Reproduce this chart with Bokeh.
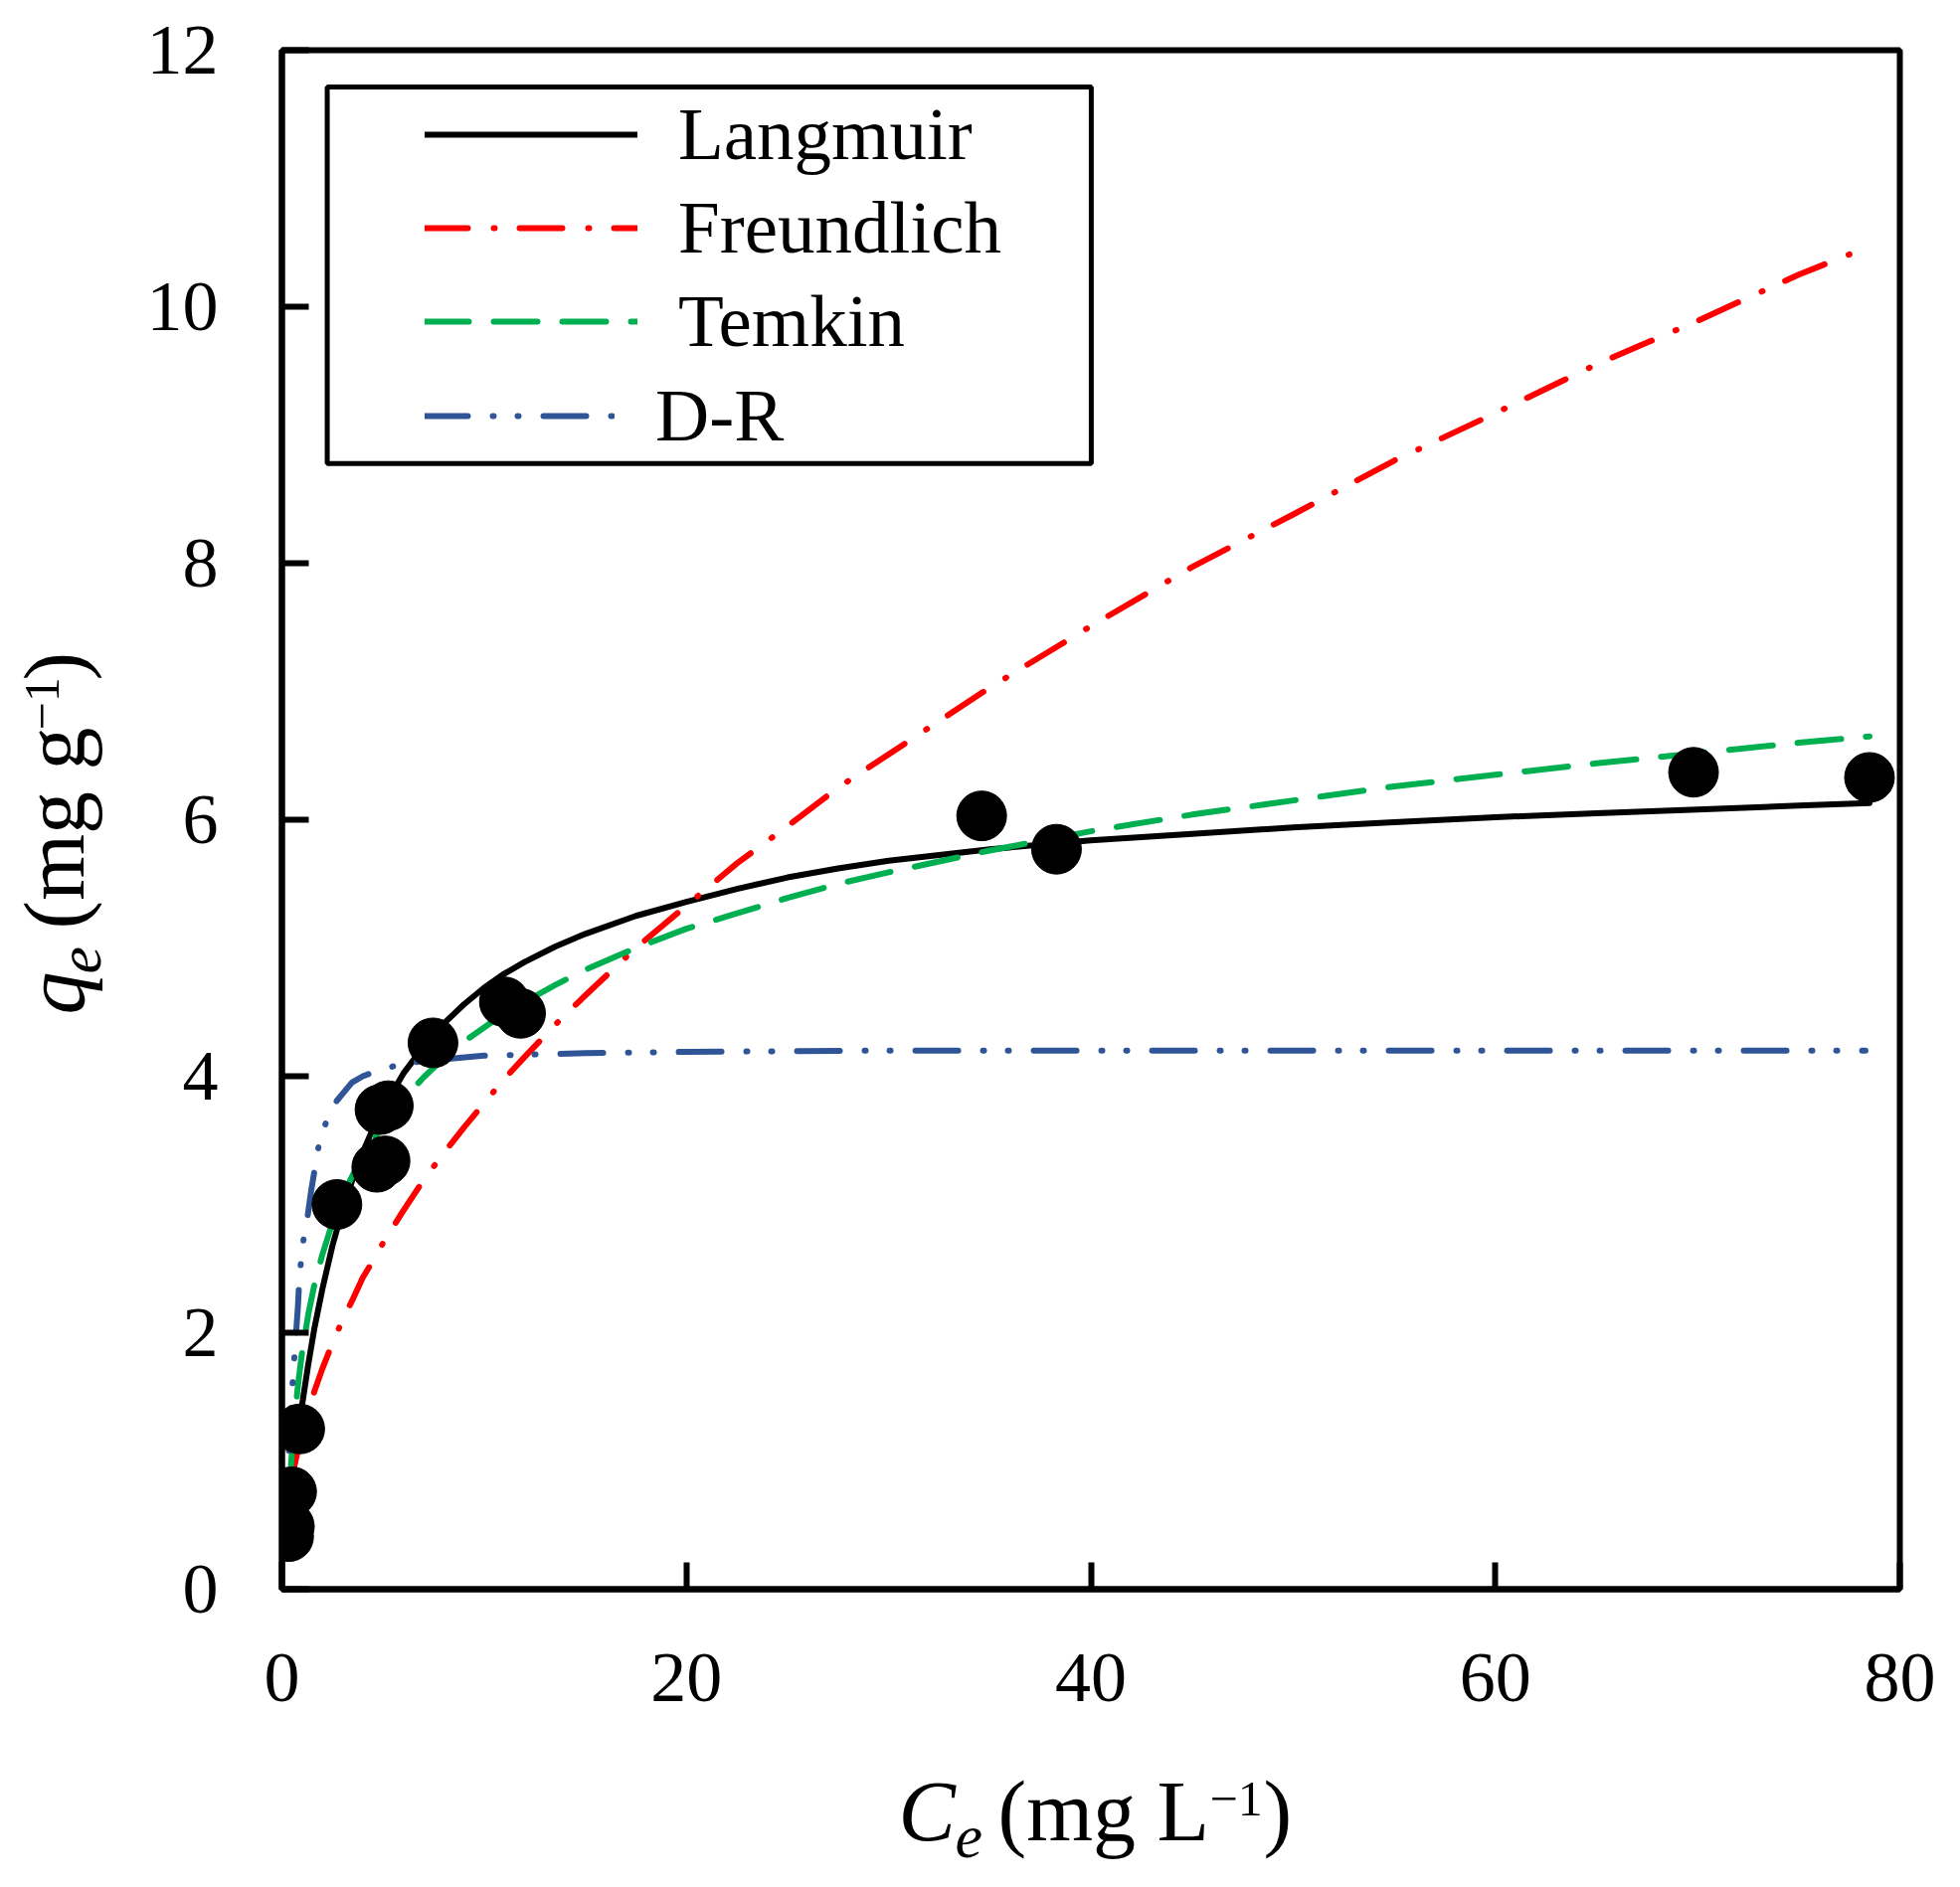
import math
from bokeh.plotting import figure
from bokeh.layouts import column, row
from bokeh.models import Range1d, FixedTicker, Legend, LegendItem, BoxAnnotation, Label
from bokeh.embed import file_html
from bokeh.resources import INLINE

# ---------------- data ----------------
Ce = [0.33, 0.37, 0.48, 0.88, 2.72, 4.69, 5.10, 4.85, 5.26, 7.47, 11.0, 11.8, 34.6, 38.3, 69.8, 78.5]
qe = [0.41, 0.49, 0.76, 1.25, 3.00, 3.29, 3.34, 3.74, 3.77, 4.26, 4.58, 4.49, 6.03, 5.77, 6.37, 6.33]

fit_x = [0.45, 0.6, 0.8, 1.0, 1.3, 1.6, 2.0, 2.5, 3.0, 3.5, 4.0, 4.5, 5.0, 6.0, 7.0, 8.0, 9.0,
         10.0, 11.0, 12.0, 13.5, 15.0, 17.5, 20.0, 22.5, 25.0, 27.5, 30.0, 35.0, 40.0, 45.0,
         50.0, 55.0, 60.0, 65.0, 70.0, 75.0, 78.5]
langmuir_q = [0.74, 0.95, 1.21, 1.44, 1.75, 2.03, 2.34, 2.68, 2.96, 3.20, 3.41, 3.59, 3.75, 4.02,
              4.23, 4.41, 4.56, 4.69, 4.80, 4.89, 5.01, 5.11, 5.25, 5.36, 5.46, 5.55, 5.62, 5.68,
              5.77, 5.84, 5.89, 5.94, 5.98, 6.02, 6.05, 6.08, 6.11, 6.13]
freundlich_q = [0.82, 0.95, 1.09, 1.22, 1.39, 1.54, 1.72, 1.92, 2.10, 2.26, 2.43, 2.56, 2.70, 2.95,
                3.19, 3.40, 3.60, 3.79, 3.98, 4.15, 4.40, 4.63, 5.00, 5.33, 5.66, 5.95, 6.25, 6.51,
                7.03, 7.51, 7.97, 8.38, 8.80, 9.17, 9.55, 9.89, 10.25, 10.47]
temkin_q = [0.97, 1.29, 1.60, 1.85, 2.14, 2.37, 2.61, 2.86, 3.06, 3.23, 3.37, 3.50, 3.62, 3.82,
            3.99, 4.14, 4.27, 4.38, 4.49, 4.58, 4.71, 4.83, 5.00, 5.15, 5.27, 5.39, 5.50, 5.59,
            5.76, 5.91, 6.04, 6.15, 6.26, 6.35, 6.44, 6.52, 6.60, 6.65]
dr_x = [0.34, 0.43, 0.54, 0.62, 0.70, 0.79, 0.87, 1.08, 1.29, 1.46, 1.82, 2.18, 2.72, 3.46,
        4.0, 4.5, 5.56, 7.0, 8.5, 10.0, 12.5, 15.0, 20.0, 30.0, 50.0, 78.3]
dr_q = [1.08, 1.40, 1.63, 1.82, 2.00, 2.20, 2.45, 2.74, 2.93, 3.12, 3.46, 3.64, 3.81, 3.95,
        4.00, 4.03, 4.08, 4.12, 4.14, 4.16, 4.17, 4.18, 4.19, 4.20, 4.20, 4.20]

series_names = ["Langmuir", "Freundlich", "Temkin", "D-R"]
series_colors = ["black", "#FF0000", "#00B050", "#2F5597"]
series_dash = ["solid", "43 26 1 25", "44 25", "43 25 1 24 1 25"]

x_ticks = [0, 20, 40, 60, 80]
y_ticks = [0, 2, 4, 6, 8, 10, 12]

SERIF = "Liberation Serif"
MID = 0.33  # distance (in em) from the text baseline up to the middle of the text box

# ---------------- main figure ----------------
p = figure(width=1830, height=1760,
           x_range=Range1d(0, 80), y_range=Range1d(0, 12),
           output_backend="svg", toolbar_location=None,
           min_border_left=163, min_border_right=40,
           min_border_top=50, min_border_bottom=162)
p.background_fill_color = "white"
p.border_fill_color = "white"
p.xgrid.visible = False
p.ygrid.visible = False
p.outline_line_color = "black"
p.outline_line_width = 6
p.outline_line_alpha = 1.0

for ax in (p.xaxis[0], p.yaxis[0]):
    ax.axis_line_width = 6
    ax.axis_line_color = "black"
    ax.major_tick_line_width = 6
    ax.major_tick_line_color = "black"
    ax.major_tick_in = 27
    ax.major_tick_out = 0
    ax.minor_tick_line_color = None
    ax.major_label_text_font = SERIF
    ax.major_label_text_font_size = "72px"
    ax.major_label_text_color = "black"
    ax.axis_label = None

p.xaxis.ticker = FixedTicker(ticks=x_ticks)
p.yaxis.ticker = FixedTicker(ticks=y_ticks)
p.xaxis.major_label_standoff = 65
p.yaxis.major_label_standoff = 64

# ---------------- curves ----------------
curve_x = [fit_x, fit_x, fit_x, dr_x]
curve_y = [langmuir_q, freundlich_q, temkin_q, dr_q]
renderers = []
for xs, ys, col, dash in zip(curve_x, curve_y, series_colors, series_dash):
    r = p.line(xs, ys, line_color=col, line_width=6, line_dash=dash,
               line_cap="round", line_join="round")
    renderers.append(r)

p.scatter(Ce, qe, size=50, marker="circle", fill_color="black", line_color="black")

# ---------------- legend ----------------
box = BoxAnnotation(left=2.24, right=40.02, bottom=8.778, top=11.713,
                    fill_color="white", fill_alpha=1.0,
                    line_color="black", line_width=5, line_alpha=1.0)
p.add_layout(box)

legend_common = dict(orientation="vertical", glyph_height=94, label_height=94,
                     label_standoff=41, spacing=0, padding=0, margin=0,
                     border_line_alpha=0, background_fill_alpha=0,
                     label_text_font=SERIF, label_text_font_size="75px",
                     label_text_color="black")
legend1 = Legend(items=[LegendItem(label=n, renderers=[r])
                        for n, r in zip(series_names[:3], renderers[:3])],
                 location=(144, 1228), glyph_width=214, **legend_common)
legend2 = Legend(items=[LegendItem(label=series_names[3], renderers=[renderers[3]])],
                 location=(144, 1133), glyph_width=191, **legend_common)
p.add_layout(legend1)
p.add_layout(legend2)

# ---------------- axis titles (separate text panels) ----------------
def text_panel(w, h, top=0, bottom=0):
    f = figure(width=w, height=h, x_range=Range1d(0, w), y_range=Range1d(0, h - top - bottom),
               output_backend="svg", toolbar_location=None, title=None,
               x_axis_type=None, y_axis_type=None,
               min_border=0, min_border_left=0, min_border_right=0,
               min_border_top=top, min_border_bottom=bottom)
    f.outline_line_color = None
    f.background_fill_color = "white"
    f.border_fill_color = "white"
    return f

# y-title panel shares the main frame's top/bottom borders (frame: 50 .. 1598 px)
ylab = text_panel(120, 1760, top=50, bottom=162)
xlab = text_panel(1950, 120)

def px(size):
    return float(size.replace("px", ""))

# (text, style, size, baseline position across, pen start along)
ylabel_parts = [
    ("q", "italic", "86px", 83, 578),
    ("e", "italic", "62px", 101, 619),
    ("(mg g", "normal", "86px", 83, 664),
    ("\u22121", "normal", "50px", 58, 864),
    (")", "normal", "86px", 83, 914),
]
xlabel_parts = [
    ("C", "italic", "86px", 903, 30),
    ("e", "italic", "62px", 960, 12),
    ("(mg L", "normal", "86px", 1003, 30),
    ("\u22121", "normal", "50px", 1216, 55),
    (")", "normal", "86px", 1270, 30),
]
for txt, style, size, base_x, y in ylabel_parts:
    ylab.add_layout(Label(x=base_x - MID * px(size), y=y, text=txt, text_font=SERIF,
                          text_font_style=style, text_font_size=size, text_color="black",
                          text_align="left", text_baseline="middle", angle=math.pi / 2))
for txt, style, size, x, base_y in xlabel_parts:
    xlab.add_layout(Label(x=x, y=base_y + MID * px(size), text=txt, text_font=SERIF,
                          text_font_style=style, text_font_size=size, text_color="black",
                          text_align="left", text_baseline="middle"))

layout = column(row(ylab, p, spacing=0), xlab, spacing=0)
open("out.html", "w").write(file_html(layout, INLINE))
